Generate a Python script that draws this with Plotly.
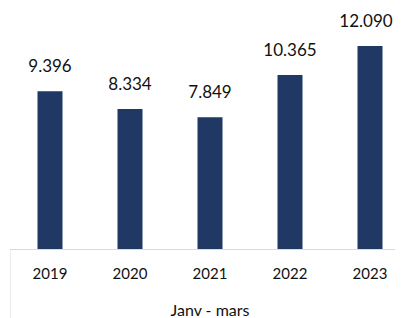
import plotly.graph_objects as go

years = ["2019", "2020", "2021", "2022", "2023"]
values = [9396, 8334, 7849, 10365, 12090]
group_label = "Janv - mars"

bar_color = "#203864"
grid_color = "#d9d9d9"
text_color = "#111111"
font_family = "Lato"
px_per_unit = 0.01679  # pixels per data unit
px_per_cat = 80.0       # pixels per category slot

idx = list(range(len(years)))
# the last value label is nudged left (as in the original) so it fits in the frame
label_x = [i - (4 / px_per_cat if i == idx[-1] else 0) for i in idx]

fig = go.Figure()
fig.add_trace(go.Bar(x=idx, y=values, marker=dict(color=bar_color, line=dict(width=0)),
                     hoverinfo="skip"))

# value labels above bars
fig.add_trace(go.Scatter(
    x=label_x, y=values, mode="markers+text",
    text=[f"{v:,}".replace(",", ".") for v in values],
    textposition="top center",
    marker=dict(size=22, opacity=0),
    textfont=dict(size=17, color=text_color, family=font_family),
    cliponaxis=False, hoverinfo="skip"))

# category labels under the baseline
fig.add_trace(go.Scatter(
    x=idx, y=[-26 / px_per_unit] * len(years), mode="text", text=years,
    textposition="middle center",
    textfont=dict(size=15, color=text_color, family=font_family),
    cliponaxis=False, hoverinfo="skip"))

# group label
fig.add_trace(go.Scatter(
    x=[idx[len(idx) // 2]], y=[-63 / px_per_unit], mode="text", text=[group_label],
    textposition="middle center",
    textfont=dict(size=16, color=text_color, family=font_family),
    cliponaxis=False, hoverinfo="skip"))

fig.add_shape(type="line", xref="x", yref="y", x0=-0.5, x1=-0.5,
              y0=-69 / px_per_unit, y1=0,
              line=dict(color=grid_color, width=1), layer="below")

fig.update_layout(
    width=395, height=310,
    margin=dict(l=2, r=0, t=0, b=0),
    paper_bgcolor="white", plot_bgcolor="white",
    bargap=0.6875,
    showlegend=False,
    font=dict(family=font_family, color=text_color),
    xaxis=dict(type="linear", range=[-0.5, -0.5 + 393 / px_per_cat], showline=False,
               showticklabels=False, ticks="", showgrid=False, zeroline=False,
               fixedrange=True),
    yaxis=dict(range=[-69 / px_per_unit, 241 / px_per_unit], showticklabels=False, ticks="",
               showline=False, showgrid=False, zeroline=True, zerolinecolor=grid_color,
               zerolinewidth=1, fixedrange=True),
)

fig.write_html("out.html")
